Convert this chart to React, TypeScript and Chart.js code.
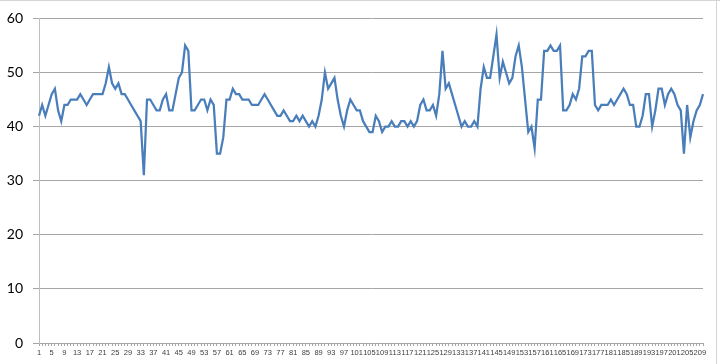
import React, { useEffect, useRef } from "react";
import Chart from "chart.js/auto";

const CATEGORIES: string[] = Array.from({ length: 210 }, (_, i) => String(i + 1));

const VALUES: number[] = [
  42, 44, 42, 44, 46, 47, 43, 41, 44, 44,
  45, 45, 45, 46, 45, 44, 45, 46, 46, 46,
  46, 48, 51, 48, 47, 48, 46, 46, 45, 44,
  43, 42, 41, 31, 45, 45, 44, 43, 43, 45,
  46, 43, 43, 46, 49, 50, 55, 54, 43, 43,
  44, 45, 45, 43, 45, 44, 35, 35, 38, 45,
  45, 47, 46, 46, 45, 45, 45, 44, 44, 44,
  45, 46, 45, 44, 43, 42, 42, 43, 42, 41,
  41, 42, 41, 42, 41, 40, 41, 40, 42, 45,
  50, 47, 48, 49, 45, 42, 40, 43, 45, 44,
  43, 43, 41, 40, 39, 39, 42, 41, 39, 40,
  40, 41, 40, 40, 41, 41, 40, 41, 40, 41,
  44, 45, 43, 43, 44, 42, 46, 54, 47, 48,
  46, 44, 42, 40, 41, 40, 40, 41, 40, 47,
  51, 49, 49, 53, 57, 49, 52, 50, 48, 49,
  53, 55, 51, 45, 39, 40, 36, 45, 45, 54,
  54, 55, 54, 54, 55, 43, 43, 44, 46, 45,
  47, 53, 53, 54, 54, 44, 43, 44, 44, 44,
  45, 44, 45, 46, 47, 46, 44, 44, 40, 40,
  42, 46, 46, 40, 43, 47, 47, 44, 46, 47,
  46, 44, 43, 35, 44, 38, 41, 43, 44, 46,
];

const Y_MIN = 0;
const Y_MAX = 60;
const Y_STEP = 10;
const LABEL_EVERY = 4;

export default function App() {
  const ref = useRef<HTMLCanvasElement>(null);

  useEffect(() => {
    if (!ref.current) return;
    const chart = new Chart(ref.current, {
      type: "line",
      data: {
        labels: CATEGORIES,
        datasets: [
          {
            data: VALUES,
            borderColor: "#4a7ebb",
            borderWidth: 2.25,
            pointRadius: 0,
            tension: 0,
            fill: false,
          },
        ],
      },
      options: {
        responsive: false,
        animation: false,
        layout: { padding: { top: 15, right: 17, left: 0, bottom: 0 } },
        plugins: { legend: { display: false }, tooltip: { enabled: false } },
        scales: {
          x: {
            offset: false,
            grid: {
              drawOnChartArea: false,
              drawTicks: true,
              tickLength: 3,
              color: "#a6a6a6",
            },
            border: { color: "#a6a6a6" },
            ticks: {
              autoSkip: false,
              maxRotation: 0,
              minRotation: 0,
              padding: 2,
              color: "#404040",
              font: { family: "Liberation Sans", size: 7.5 },
              callback: (_v: any, i: number) =>
                i % LABEL_EVERY === 0 ? CATEGORIES[i] : "",
            },
            afterFit: (s: any) => {
              s.height = 21;
            },
          },
          y: {
            min: Y_MIN,
            max: Y_MAX,
            ticks: {
              stepSize: Y_STEP,
              padding: 10,
              color: "#000000",
              font: { family: "Lato", size: 14 },
            },
            grid: { color: "#a6a6a6", tickLength: 6 },
            border: { color: "#bfbfbf" },
            afterFit: (s: any) => {
              s.width = 39;
            },
          },
        },
      },
    });
    return () => chart.destroy();
  }, []);

  return (
    <div
      style={{
        position: "fixed",
        left: 0,
        top: 0,
        width: 720,
        height: 364,
        background: "#ffffff",
      }}
    >
      <canvas ref={ref} width={720} height={364} style={{ display: "block" }} />
      <div
        style={{
          position: "absolute",
          left: 0,
          top: 0,
          width: 720,
          height: 1,
          background: "#d4d4d4",
        }}
      />
      <div
        style={{
          position: "absolute",
          left: 716,
          top: 0,
          width: 1,
          height: 364,
          background: "#d4d4d4",
        }}
      />
    </div>
  );
}
